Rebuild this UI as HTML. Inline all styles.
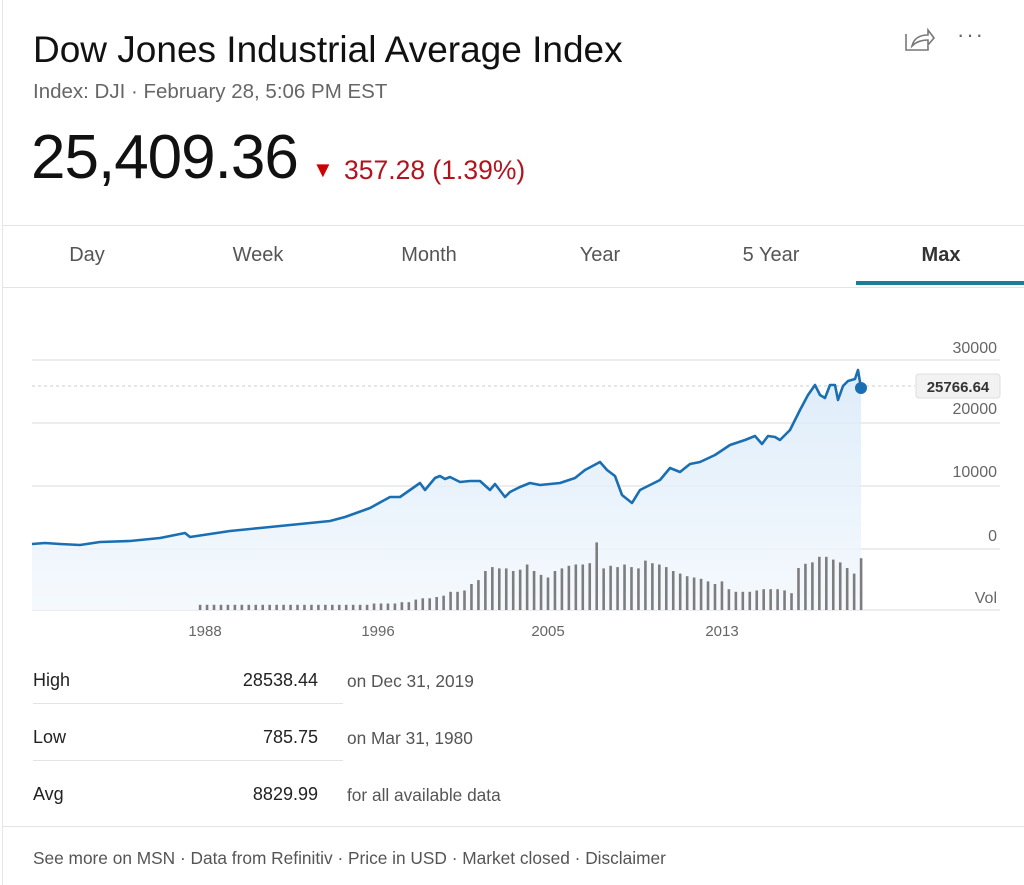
<!DOCTYPE html>
<html><head><style>
body{margin:0;width:1024px;height:885px;background:#fff;font-family:"Liberation Sans",sans-serif;overflow:hidden;position:relative}
.a{position:absolute;white-space:nowrap}
.tab{position:absolute;top:244px;font-size:20px;color:#555;width:170px;text-align:center}
.lbl{position:absolute;font-size:18px;color:#222}
.sm{position:absolute;font-size:17.3px;color:#555}
</style></head><body>
<div class="a" style="left:2px;top:0;width:1px;height:885px;background:#e6e6e6"></div>
<div class="a" style="left:33px;top:29px;font-size:37px;color:#111">Dow Jones Industrial Average Index</div>
<div class="a" style="left:33px;top:80px;font-size:20.5px;color:#666">Index: DJI · February 28, 5:06 PM EST</div>
<div class="a" style="left:31px;top:122px;font-size:62px;color:#111;letter-spacing:-1px">25,409.36</div>
<div class="a" style="left:312px;top:157px;font-size:22px;color:#c00">▼</div>
<div class="a" style="left:344px;top:155px;font-size:26.5px;color:#b3141c">357.28 (1.39%)</div>
<svg class="a" style="left:900px;top:26px" width="40" height="28"><path d="M6 8v16h22v-4" fill="none" stroke="#777" stroke-width="1.6"/><path d="M12 20c2-8 8-11 16-11v-5l6 8-6 7v-5c-7 0-12 2-16 6z" fill="none" stroke="#777" stroke-width="1.6"/></svg>
<div class="a" style="left:957px;top:22px;font-size:22px;color:#666;letter-spacing:2px">···</div>
<div class="a" style="left:3px;top:225px;width:1021px;height:1px;background:#e3e3e3"></div>
<div class="a" style="left:3px;top:287px;width:1021px;height:1px;background:#e3e3e3"></div>
<div class="tab" style="left:2px">Day</div>
<div class="tab" style="left:173px">Week</div>
<div class="tab" style="left:344px">Month</div>
<div class="tab" style="left:515px">Year</div>
<div class="tab" style="left:686px">5 Year</div>
<div class="tab" style="left:856px;color:#333;font-weight:bold">Max</div>
<div class="a" style="left:856px;top:281px;width:168px;height:4px;background:#1a7f96"></div>

<svg class="a" style="left:0;top:330px" width="1024" height="320" id="ch">
<defs><linearGradient id="g" x1="0" y1="0" x2="0" y2="1"><stop offset="0" stop-color="#d6e8f8"/><stop offset="1" stop-color="#f3f8fd"/></linearGradient></defs>
<g stroke="#e2e2e2" stroke-width="1.3">
<line x1="32" x2="1000" y1="30" y2="30"/><line x1="32" x2="1000" y1="93" y2="93"/><line x1="32" x2="1000" y1="156" y2="156"/><line x1="32" x2="1000" y1="219" y2="219"/><line x1="32" x2="1000" y1="280" y2="280"/></g>
<line x1="32" x2="915" y1="56" y2="56" stroke="#ccc" stroke-dasharray="3,3"/>
<g font-size="16" fill="#666" text-anchor="end" font-family="Liberation Sans">
<text x="997" y="23">30000</text><text x="997" y="84">20000</text><text x="997" y="147">10000</text><text x="997" y="211">0</text><text x="997" y="273">Vol</text></g>
<g font-size="15" fill="#666" text-anchor="middle" font-family="Liberation Sans">
<text x="205" y="306">1988</text><text x="378" y="306">1996</text><text x="548" y="306">2005</text><text x="722" y="306">2013</text></g>
<path id="area" fill="url(#g)" opacity="0.8"/>
<g id="vol" fill="#7d7d7d"></g>
<path id="ln" fill="none" stroke="#1a6fb3" stroke-width="2.6" stroke-linejoin="round"/>
<circle cx="861" cy="58" r="6" fill="#1a6fb3"/>
<rect x="916" y="44" width="84" height="24" rx="3" fill="#f2f2f2" stroke="#ddd"/>
<text x="958" y="62" font-size="15" font-weight="bold" fill="#333" text-anchor="middle" font-family="Liberation Sans">25766.64</text>
</svg>

<div class="lbl" style="left:33px;top:670px">High</div><div class="lbl" style="left:200px;top:670px;width:118px;text-align:right">28538.44</div><div class="sm" style="left:347px;top:671px">on Dec 31, 2019</div>
<div class="a" style="left:33px;top:703px;width:310px;height:1px;background:#e3e3e3"></div>
<div class="lbl" style="left:33px;top:727px">Low</div><div class="lbl" style="left:200px;top:727px;width:118px;text-align:right">785.75</div><div class="sm" style="left:347px;top:728px">on Mar 31, 1980</div>
<div class="a" style="left:33px;top:760px;width:310px;height:1px;background:#e3e3e3"></div>
<div class="lbl" style="left:33px;top:784px">Avg</div><div class="lbl" style="left:200px;top:784px;width:118px;text-align:right">8829.99</div><div class="sm" style="left:347px;top:785px">for all available data</div>
<div class="a" style="left:3px;top:826px;width:1021px;height:1px;background:#e3e3e3"></div>
<div class="sm" style="left:33px;top:848px;color:#555">See more on MSN · Data from Refinitiv · Price in USD · Market closed · Disclaimer</div>
<script>
var P=[[32,544],[45,543],[60,544],[80,545],[100,542],[130,541],[160,538],[185,533],[190,537],[230,531],[260,528],[290,525],[330,521],[345,517],[370,508],[390,497],[400,497],[410,490],[420,483],[425,490],[430,484],[435,478],[440,476],[445,479],[450,477],[460,482],[470,481],[480,481],[490,490],[495,484],[505,497],[510,492],[520,487],[530,483],[540,485],[560,483],[575,478],[585,470],[600,462],[607,470],[615,476],[622,495],[632,503],[640,490],[660,480],[670,468],[680,472],[690,464],[700,462],[715,455],[730,445],[745,440],[755,436],[762,444],[768,436],[775,437],[780,440],[790,430],[800,410],[808,395],[815,385],[820,395],[825,398],[830,385],[835,385],[838,400],[843,386],[848,381],[855,379],[858,370],[861,388]];
var d="";P.forEach(function(p,i){d+=(i?"L":"M")+p[0]+" "+(p[1]-330)});
document.getElementById("ln").setAttribute("d",d);
document.getElementById("area").setAttribute("d",d+"L861 280L32 280Z");
var H=[4,4,4,4,4,4,4,4,4,4,4,4,4,4,4,4,4,4,4,4,4,4,4,4,4,5,5,5,5,6,6,8,9,9,10,11,14,14,15,20,23,30,33,32,32,30,31,35,30,27,25,30,32,34,35,35,36,52,32,34,33,35,33,32,38,36,35,33,30,28,26,25,24,22,20,22,16,14,14,14,15,16,16,16,14,12,30,33,34,38,38,36,34,30,26,37];
var g=document.getElementById("vol"),s="";var n=H.length,x0=200,x1=861;
H.forEach(function(h,i){var x=x0+(x1-x0)*i/(n-1);var hh=h*1.3;if(i>=84)hh=h*1.4;s+='<rect x="'+(x-1.2)+'" y="'+(280-hh)+'" width="2.6" height="'+hh+'"/>'});
g.innerHTML=s;
</script>
</body></html>
